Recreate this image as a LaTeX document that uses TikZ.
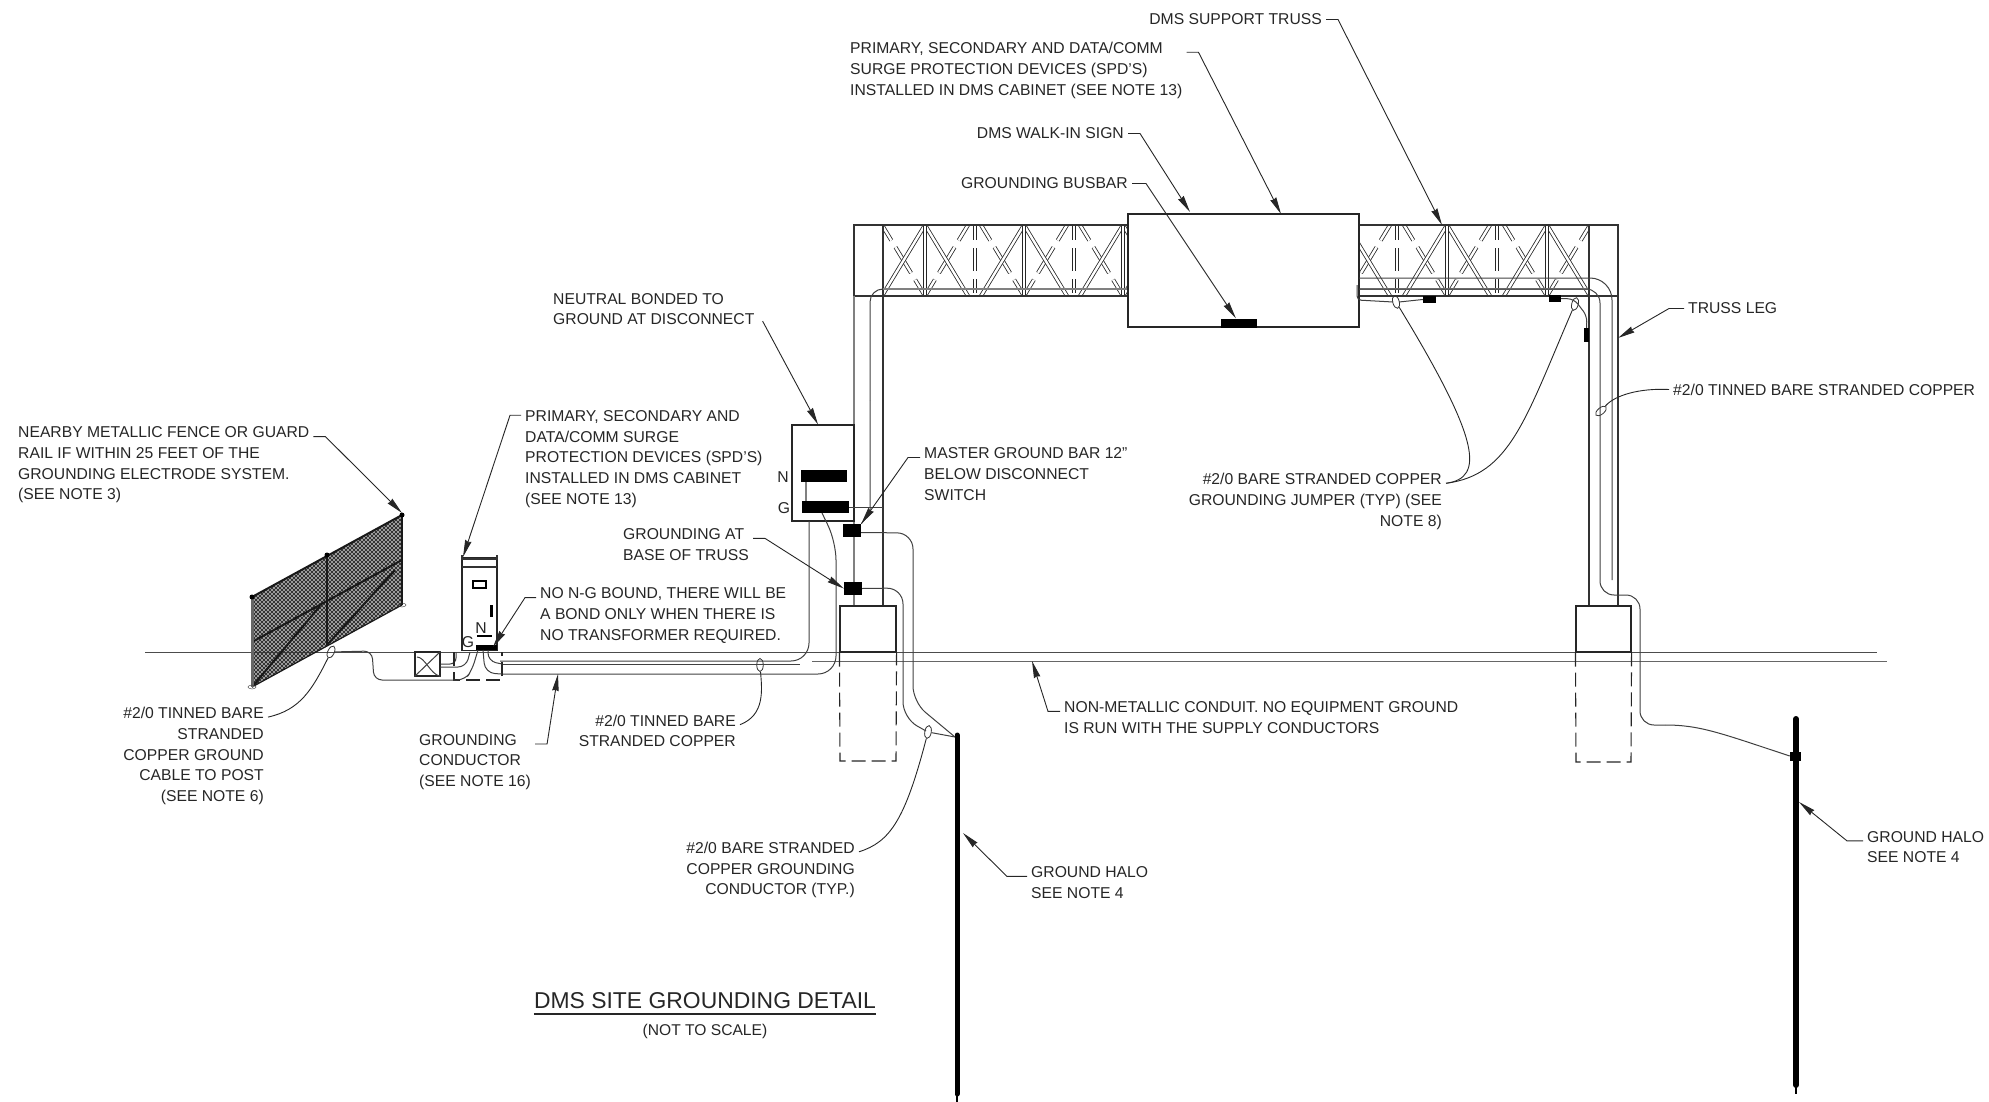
\documentclass[tikz,border=0pt]{standalone}
\usepackage{fontspec}
\setmainfont{Liberation Sans}
\usetikzlibrary{arrows.meta, shapes.geometric}

\begin{document}
\begin{tikzpicture}[x=1pt, y=-1pt,
  every node/.style={text=black!85},
  note/.style={font=\fontsize{15.7}{20.7}\selectfont, inner sep=4pt, yshift=-1.5pt},
  leftnote/.style={note, align=left, anchor=west},
  rightnote/.style={note, align=right, anchor=east},
  leader/.style={line width=0.9pt, black!85},
  pointer/.style={leader, -{Stealth[length=17pt, width=6.5pt, inset=1pt]}},
  wire/.style={line width=1pt, black!75},
  steel/.style={line width=1.2pt, black!80},
  faded/.style={line width=1.5pt, black!50},
  member/.style={line width=0.8pt, black!85, double=white, double distance=2.4pt},
  brokenmember/.style={member, dash pattern=on 18pt off 8pt on 30pt off 8pt on 30pt},
  brokenpost/.style={member, dash pattern=on 15pt off 8pt on 23pt off 8pt on 14pt},
  buried/.style={line width=1.1pt, black!85, dash pattern=on 14pt off 6pt},
  bar/.style={fill=black, inner sep=0pt},
  box/.style={draw=black!85, line width=1.1pt, fill=white, inner sep=0pt},
  tie/.style={draw=black!80, line width=0.8pt, ellipse, inner sep=0pt, minimum width=6.5pt, minimum height=13pt}]
  \useasboundingbox (0,0) rectangle (1989,1102);

  \draw[line width=1pt, black!70] (145,652) -- (1877,652);
  \draw[line width=1pt, black!60] (812,661) -- (1887,661);

  \foreach \xa/\xb/\xs in {883/1128/{925,1024,1123}, 1359/1589/{1347,1447,1547}} {
    \begin{scope}
      \clip (\xa,225) rectangle (\xb,296);
      \foreach \x in \xs {
        \draw[brokenmember] (\x-43,225) -- (\x,296);
        \draw[brokenmember] (\x+43,225) -- (\x,296);
        \draw[brokenpost] (\x+50,225) -- (\x+50,296);
      }
      \foreach \x in \xs {
        \draw[member] (\x,225) -- (\x-43,296);
        \draw[member] (\x,225) -- (\x+43,296);
        \draw[member] (\x,225) -- (\x,296);
      }
    \end{scope}
  }
  \draw[steel] (854,225) rectangle (1128,296);
  \draw[steel] (883,225) -- (883,606);
  \draw[faded] (854,296) -- (854,606);
  \draw[faded] (883,289) -- (1128,289);
  \draw[faded] (1359,289) -- (1589,289);
  \draw[steel] (1359,225) -- (1618,225) -- (1618,606);
  \draw[steel] (1359,296) -- (1618,296);
  \draw[steel] (1589,225) -- (1589,606);

  \node (sign) [box, minimum width=231pt, minimum height=113pt] at (1243.5,270.5) {};
  \node (signbar) [bar, minimum width=36pt, minimum height=9pt] at (1239,323) {};

  \node (footleft) [box, minimum width=56pt, minimum height=46pt] at (868,629) {};
  \node (footright) [box, minimum width=55pt, minimum height=46pt] at (1603.5,629) {};
  \draw[buried] (footleft.south west) -- (840,761) -- (896,761) -- (footleft.south east);
  \draw[buried] (footright.south west) -- (1576,762) -- (1631,762) -- (footright.south east);

  \node (disconnect) [box, minimum width=62pt, minimum height=96pt] at (823,473) {};
  \node (nbar) [bar, minimum width=46pt, minimum height=12pt] at (824,476) {};
  \node (gbar) [bar, minimum width=47pt, minimum height=12pt] at (825.5,507) {};
  \node (nlabel) [note] at (783,476) {N};
  \node (glabel) [note] at (784,507) {G};
  \draw[faded] (806,482) -- (806,501);
  \node (masterbar) [bar, minimum width=18pt, minimum height=13pt] at (852,530.5) {};
  \node (basebar) [bar, minimum width=18pt, minimum height=13pt] at (853,588.5) {};
  \draw[wire] (gbar.east) -- (883,507);

  \node (tiebase) [tie, rotate=-10] at (928,732) {};
  \node (rightjumperleft) [tie, rotate=15] at (1396,302) {};
  \node (rightjumperright) [tie, rotate=-15] at (1575,304) {};
  \node (legtie) [tie, rotate=-50] at (1601,411) {};
  \node (fencetie) [tie, rotate=-25] at (331,652) {};
  \node (runtie) [tie, rotate=0] at (760,665) {};

  \draw[wire, rounded corners=16pt] ([yshift=-2pt]masterbar.east) -- (913,533) -- (913,702) -- (955,737);
  \draw[wire, rounded corners=16pt] (basebar.east) -- (903,588) -- (903,718) -- (926,731);
  \draw[wire] (tiebase) -- (955,737);
  \draw[wire, rounded corners=13pt] (883,289) -- (870,289) -- (870,400);
  \draw[wire] (870,400) -- (870,513) -- (masterbar.north east);
  \draw[wire, rounded corners=18pt] (500,661) -- (809,661) -- (809,521);
  \draw[wire, rounded corners=18pt] (502,674) -- (836,674) -- (836,542) -- (822,513);
  \draw[wire] (502,664) -- (800,664);

  \draw[wire, rounded corners=22pt] (1359,278) -- (1612,278) -- (1612,580);
  \draw[wire, rounded corners=14pt] (1359,289) -- (1600,289) -- (1600,595) -- (1640,595) -- (1640,725) -- (1665,725);
  \node (rodclamp) [bar, minimum width=11pt, minimum height=9pt] at (1795.5,756) {};
  \draw[wire] (1665,725) .. controls (1700,725) and (1720,733) .. (rodclamp.west);
  \node (rightjumperbar) [bar, minimum width=13pt, minimum height=7pt] at (1429.5,299.5) {};
  \node (trussbar) [bar, minimum width=12pt, minimum height=7pt] at (1555,298.5) {};
  \node (legbar) [bar, minimum width=5pt, minimum height=14pt] at (1586.5,335) {};
  \draw[wire, rounded corners=4pt] (1357,285) -- (1357,300) -- (1393,302);
  \draw[wire] (1399,302) -- (rightjumperbar.west);
  \draw[wire, rounded corners=6pt] (trussbar.east) -- (1574,299) -- (1587,316) -- (legbar.north);

  \coordinate (rodlefttop) at (957,735);
  \coordinate (rodleftend) at (957,1094);
  \coordinate (rodlefttip) at (957,1102);
  \coordinate (rodrighttop) at (1796,719);
  \coordinate (rodrightend) at (1796,1085);
  \coordinate (rodrighttip) at (1796,1094);
  \draw[line width=5pt, line cap=round] (rodlefttop) -- (rodleftend);
  \draw[line width=1.5pt] (rodleftend) -- (rodlefttip);
  \draw[line width=6pt, line cap=round] (rodrighttop) -- (rodrightend);
  \draw[line width=1.5pt] (rodrightend) -- (rodrighttip);

  \begin{scope}
    \clip (252,597) -- (402,515) -- (402,605) -- (252,687) -- cycle;
    \foreach \d in {760,764,...,1100} {
      \draw[line width=1.1pt, black!80] (\d-200,200) -- (\d-800,800);
      \draw[line width=1.1pt, black!80] (\d-1000,200) -- (\d-400,800);
    }
  \end{scope}
  \draw[line width=2pt, black!90] (252,597) -- (402,515);
  \draw[line width=1.2pt, black!90] (252,687) -- (402,605);
  \draw[line width=2pt, black!90] (252,642) -- (402,560);
  \draw[line width=2pt, black!90] (252,687) -- (320,606);
  \draw[line width=2pt, black!90] (327,645) -- (395,570);
  \draw[line width=3pt, black!60] (252,597) -- (252,687);
  \draw[line width=2pt, black!90] (327,555) -- (327,645);
  \draw[line width=2pt, black!90] (402,515) -- (402,605);
  \fill[black] (252,597) circle (2.5pt) (327,555) circle (2.5pt) (402,515) circle (2.5pt);
  \draw[black!80] (252,687) ellipse (4pt and 2pt);
  \draw[black!80] (402,605) ellipse (4pt and 2pt);

  \node (cabinet) [box, minimum width=35pt, minimum height=93pt] at (479.5,604) {};
  \draw[steel] (462,555) -- (462,559) -- (497,559) -- (497,555);
  \draw[steel] (462,567) -- (497,567);
  \draw[line width=1.2pt] (473,581) rectangle (486,588);
  \node (cabinethandle) [bar, minimum width=3pt, minimum height=12pt] at (491,611) {};
  \node (cabinetn) [note] at (481,627) {N};
  \node (cabinetg) [note] at (468,641) {G};
  \node (cabinetnbar) [bar, minimum width=15pt, minimum height=2.5pt] at (484,636) {};
  \node (cabinetgbar) [bar, minimum width=21pt, minimum height=5pt] at (486.5,647) {};

  \node (pullbox) [box, minimum width=25pt, minimum height=24pt] at (427.5,664) {};
  \draw[wire] (pullbox.south west) -- (pullbox.north east);
  \draw[wire] (417,657) .. controls (425,657) and (430,674) .. (pullbox.south east);
  \draw[wire, rounded corners=6pt] (pullbox.east) -- (456,664) -- (456,652);
  \draw[wire, rounded corners=8pt] (440,667) -- (466,667) -- (470,652);
  \draw[buried] (454,652) -- (454,680) -- (502,680) -- (502,652);
  \draw[wire, rounded corners=8pt] (fencetie) -- (372,651) -- (374,680) -- (465,680) -- (472,670) -- (478,650);
  \draw[wire, rounded corners=8pt] (488,650) -- (488,661) -- (502,664);
  \draw[wire, rounded corners=10pt] (483,650) -- (485,673) -- (502,674);

  \node (supportnote) [rightnote] at (1326,18) {DMS SUPPORT TRUSS};
  \coordinate (supporttip) at (1442,225);
  \draw[pointer] (supportnote.east) -- ++(12,0) -- (supporttip);

  \node (spdnote) [leftnote] at (846,69) {PRIMARY, SECONDARY AND DATA/COMM\\SURGE PROTECTION DEVICES (SPD'S)\\INSTALLED IN DMS CABINET (SEE NOTE 13)};
  \draw[pointer] ([yshift=-14pt]spdnote.north east) -- ++(12,0) -- (1281,214);

  \node (walkinnote) [rightnote] at (1128,132) {DMS WALK-IN SIGN};
  \draw[pointer] (walkinnote.east) -- ++(12,0) -- (1190,212);

  \node (busbarnote) [rightnote] at (1132,182) {GROUNDING BUSBAR};
  \draw[pointer] (busbarnote.east) -- ++(14,0) -- (signbar);

  \node (legnote) [leftnote] at (1684,307) {TRUSS LEG};
  \draw[pointer] (legnote.west) -- ++(-15,0) -- (1618,338);

  \node (legcoppernote) [leftnote] at (1669,388) {\#2/0 TINNED BARE STRANDED COPPER};
  \draw[leader] (legcoppernote.west) .. controls (1640,388) and (1615,395) .. (legtie);

  \node (jumpernote) [rightnote] at (1446,500) {\#2/0 BARE STRANDED COPPER\\GROUNDING JUMPER (TYP) (SEE\\NOTE 8)};
  \coordinate (jumperjoin) at ([yshift=-14pt]jumpernote.north east);
  \draw[leader] (jumperjoin) .. controls (1485,478) and (1480,440) .. (rightjumperleft);
  \draw[leader] (jumperjoin) .. controls (1510,475) and (1525,420) .. (rightjumperright);

  \node (neutralnote) [leftnote] at (549,307.5) {NEUTRAL BONDED TO\\GROUND AT DISCONNECT};
  \draw[pointer] (neutralnote.south east) ++(4,-8) -- ([xshift=-5pt]disconnect.north);

  \node (masternote) [leftnote] at (920,472.5) {MASTER GROUND BAR 12"\\BELOW DISCONNECT\\SWITCH};
  \draw[pointer] ([yshift=-14pt]masternote.north west) -- ++(-12,0) -- (masterbar.north east);

  \node (basenote) [leftnote] at (619,543) {GROUNDING AT\\BASE OF TRUSS};
  \draw[pointer] ([yshift=-14pt]basenote.north east) -- ++(12,0) -- (basebar.west);

  \node (cabinetnote) [leftnote] at (521,457.5) {PRIMARY, SECONDARY AND\\DATA/COMM SURGE\\PROTECTION DEVICES (SPD'S)\\INSTALLED IN DMS CABINET\\(SEE NOTE 13)};
  \draw[pointer] ([yshift=-9pt]cabinetnote.north west) -- ++(-11,0) -- (463,557);

  \node (fencenote) [leftnote] at (14,463.5) {NEARBY METALLIC FENCE OR GUARD\\RAIL IF WITHIN 25 FEET OF THE\\GROUNDING ELECTRODE SYSTEM.\\(SEE NOTE 3)};
  \draw[pointer] ([yshift=-14pt]fencenote.north east) -- ++(12,0) -- (402,513);

  \node (boundnote) [leftnote] at (536,614) {NO N-G BOUND, THERE WILL BE\\A BOND ONLY WHEN THERE IS\\NO TRANSFORMER REQUIRED.};
  \draw[pointer] ([yshift=-14pt]boundnote.north west) -- ++(-11,0) -- (493,647);

  \node (postnote) [rightnote] at (268,754.5) {\#2/0 TINNED BARE\\STRANDED\\COPPER GROUND\\CABLE TO POST\\(SEE NOTE 6)};
  \draw[leader] ([yshift=-14pt]postnote.north east) .. controls (300,710) and (312,690) .. (fencetie);

  \node (runnote) [rightnote] at (740,729.5) {\#2/0 TINNED BARE\\STRANDED COPPER};
  \draw[leader] ([yshift=-14pt]runnote.north east) .. controls (765,715) and (762,690) .. (runtie);

  \node (conductornote) [leftnote] at (415,760.5) {GROUNDING\\CONDUCTOR\\(SEE NOTE 16)};
  \draw[pointer] ([yshift=-14pt]conductornote.north east) -- ++(12,0) -- (558,674);

  \node (conduitnote) [leftnote] at (1060,716) {NON-METALLIC CONDUIT. NO EQUIPMENT GROUND\\IS RUN WITH THE SUPPLY CONDUCTORS};
  \draw[pointer] ([yshift=-14pt]conduitnote.north west) -- ++(-12,0) -- (1032,661);

  \node (basewirenote) [rightnote] at (859,868.5) {\#2/0 BARE STRANDED\\COPPER GROUNDING\\CONDUCTOR (TYP.)};
  \draw[leader] ([yshift=-14pt]basewirenote.north east) .. controls (890,842) and (905,820) .. (tiebase);

  \node (haloleft) [leftnote] at (1027,881) {GROUND HALO\\SEE NOTE 4};
  \draw[pointer] ([yshift=-14pt]haloleft.north west) -- ++(-20,0) -- (963,833);

  \node (haloright) [leftnote] at (1863,845.5) {GROUND HALO\\SEE NOTE 4};
  \draw[pointer] ([yshift=-14pt]haloright.north west) -- ++(-16,0) -- (1799,802);

  \node (title) [font=\fontsize{22.9}{26}\selectfont, inner sep=0pt] at (705,1001) {DMS SITE GROUNDING DETAIL};
  \draw[line width=1.3pt, black!85] (title.south west |- 0,1014) -- (title.south east |- 0,1014);
  \node (scalenote) [note, font=\fontsize{15.6}{18}\selectfont] at (705,1030) {(NOT TO SCALE)};
\end{tikzpicture}
\end{document}
